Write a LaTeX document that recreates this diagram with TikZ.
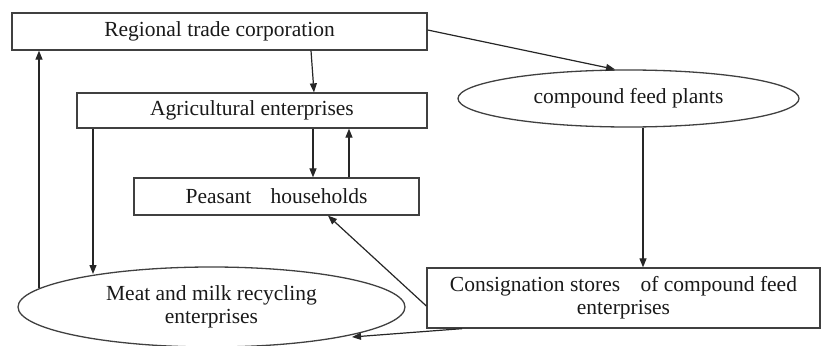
\documentclass[tikz,border=0pt]{standalone}
\usepackage{fontspec}
\setmainfont{Liberation Serif}
\usetikzlibrary{shapes.geometric,arrows.meta,calc}
\begin{document}
\begin{tikzpicture}[x=1pt,y=-1pt,
  every node/.style={font=\fontsize{21.5}{24}\selectfont, text=black!90, inner sep=0pt, align=center},
  boxn/.style={draw=black!75, line width=1.3pt, rectangle},
  elln/.style={draw=black!75, line width=1.3pt, ellipse},
  arr/.style={draw=black!85, line width=1.2pt, -{Triangle[length=9pt,width=7pt]}}]
\useasboundingbox (0,0) rectangle (821,345);
\node[boxn, minimum width=415pt, minimum height=37pt] (reg) at (219.5,31.5) {Regional trade corporation};
\node[boxn, minimum width=350pt, minimum height=35pt] (agri) at (252,110.5) {Agricultural enterprises};
\node[elln, minimum width=341pt, minimum height=57pt] (feed) at (628.5,98.5) {compound feed plants};
\node[boxn, minimum width=285pt, minimum height=37pt] (peas) at (276.5,196.5) {Peasant\hspace{0.9em}households};
\node[elln, minimum width=387pt, minimum height=80pt] (meat) at (211.5,307) {Meat and milk recycling\\[-1pt]enterprises};
\node[boxn, minimum width=393pt, minimum height=60pt] (cons) at (623.5,298) {Consignation stores\hspace{0.7em} of compound feed\\[-1pt]enterprises};
\coordinate (meatin) at (352,337);
\draw[arr] (reg.south -| 311,0) -- (agri.north -| 314,0);
\draw[arr] (reg.east |- 0,30) -- (feed.north -| 615,0);
\draw[arr] (agri.south -| 313,0) -- (peas.north -| 313,0);
\draw[arr] (peas.north -| 349,0) -- (agri.south -| 349,0);
\draw[arr] (agri.south -| 93,0) -- (93,274);
\draw[arr] (39,288) -- (reg.south -| 39,0);
\draw[arr] (feed.south -| 643,0) -- (cons.north -| 643,0);
\draw[arr] (cons.west |- 0,306) -- (peas.south -| 328,0);
\draw[arr] (cons.south -| 462,0) -- (meatin);
\end{tikzpicture}
\end{document}
